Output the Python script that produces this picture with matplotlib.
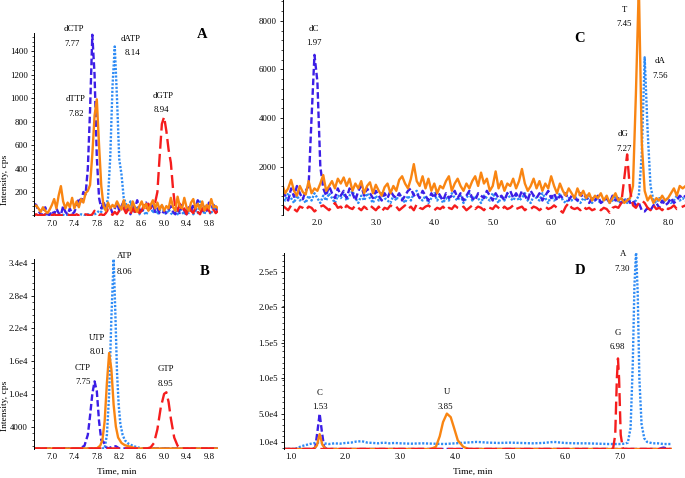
import numpy as np
import matplotlib
matplotlib.use('Agg')
import matplotlib.pyplot as plt
from matplotlib.ticker import AutoMinorLocator

plt.rcParams['font.family'] = ['Liberation Serif', 'DejaVu Serif']

# colours / line styles per base
c_cyt = '#3c1ee6'   # C  : dashed
c_ade = '#2e8bf5'   # A  : dotted
c_thy = '#f98512'   # T/U: solid
c_gua = '#f51d1d'   # G  : long dash
ls_cyt = (0, (2.8, 1.3))
ls_ade = (0, (0.9, 0.7))
ls_gua = (0, (5.5, 2.2))

# ---------------- panel A : deoxynucleoside triphosphates ----------------
tA = np.linspace(6.68, 9.96, 83)
dTTP = [80, 85, 60, 30, 70, 40, 20, 50, 90, 140,
        60, 170, 250, 120, 60, 110, 70, 150, 60, 120,
        70, 140, 110, 190, 210, 260, 520, 850, 990, 600,
        250, 80, 40, 110, 60, 90, 70, 120, 80, 50,
        130, 60, 90, 40, 120, 70, 30, 80, 120, 60,
        100, 40, 90, 130, 60, 110, 50, 90, 40, 80,
        60, 150, 70, 40, 160, 80, 60, 150, 70, 40,
        110, 140, 60, 100, 50, 120, 40, 90, 60, 140,
        70, 80, 60]
dCTP = [100, 90, 40, 10, 5, 70, 10, 5, 40, 10,
        60, 20, 5, 80, 30, 10, 60, 10, 30, 80,
        150, 120, 200, 180, 400, 900, 1540, 1200, 500, 150,
        60, 120, 40, 90, 70, 20, 60, 110, 40, 80,
        120, 30, 70, 10, 90, 60, 130, 50, 20, 80,
        110, 40, 70, 100, 30, 60, 20, 10, 40, 20,
        50, 80, 30, 10, 60, 20, 90, 40, 10, 70,
        30, 100, 50, 130, 60, 20, 90, 40, 110, 60,
        90, 40, 70]
dATP = [10, 5, 0, 5, 0, 10, 0, 5, 0, 5,
        0, 10, 0, 5, 0, 5, 0, 10, 0, 5,
        0, 10, 5, 0, 10, 5, 0, 10, 20, 40,
        30, 90, 60, 150, 500, 1100, 1440, 1000, 480, 350,
        150, 100, 60, 120, 50, 20, 80, 10, 60, 30,
        5, 50, 90, 20, 60, 10, 40, 90, 30, 10,
        50, 20, 5, 40, 10, 60, 30, 5, 50, 20,
        70, 10, 40, 20, 120, 60, 10, 80, 30, 10,
        90, 40, 20]
dGTP = [0, 10, 0, 5, 0, 10, 0, 5, 0, 10,
        0, 5, 0, 5, 0, 10, 0, 5, 0, 10,
        0, 5, 0, 10, 5, 0, 10, 40, 20, 5,
        10, 0, 20, 50, 20, 5, 30, 10, 40, 80,
        60, 20, 50, 10, 60, 30, 70, 20, 40, 90,
        50, 100, 60, 90, 110, 200, 500, 780, 840, 720,
        560, 450, 220, 60, 40, 100, 30, 60, 10, 80,
        40, 20, 70, 30, 10, 60, 20, 80, 40, 10,
        50, 20, 40]

# ---------------- panel B : ribonucleoside triphosphates ----------------
t_CTP = [6.68, 7.50, 7.58, 7.64, 7.68, 7.72, 7.76, 7.80, 7.84, 7.88, 7.92, 7.96, 8.00, 8.10, 8.14, 8.20, 9.96]
y_CTP = [0, 0, 500, 2500, 6000, 10000, 12300, 10500, 5000, 1500, 1200, 300, 0, 400, 400, 0, 0]
t_UTP = [6.68, 7.80, 7.86, 7.90, 7.94, 7.98, 8.02, 8.06, 8.10, 8.14, 8.18, 8.24, 8.30, 8.40, 8.50, 9.96]
y_UTP = [0, 0, 500, 1500, 5000, 12000, 17500, 14500, 8000, 4000, 2000, 1000, 600, 300, 0, 0]
t_ATP = [6.68, 7.94, 7.98, 8.02, 8.06, 8.10, 8.13, 8.16, 8.19, 8.22, 8.26, 8.30, 8.36, 8.44, 8.52, 8.62, 9.96]
y_ATP = [0, 0, 2500, 10000, 24000, 34700, 25000, 14000, 8000, 4500, 2500, 1500, 900, 500, 200, 0, 0]
t_GTP = [6.68, 8.70, 8.76, 8.82, 8.88, 8.94, 9.00, 9.04, 9.08, 9.12, 9.18, 9.24, 9.30, 9.96]
y_GTP = [0, 0, 200, 1000, 3500, 7500, 10000, 10300, 8500, 5500, 2000, 500, 0, 0]

# ---------------- panel C : deoxynucleosides ----------------
tC = np.linspace(1.40, 8.30, 139)
T_C = [1250, 900, 1100, 1450, 1000, 800, 1200, 950, 850, 1400,
       900, 1100, 1000, 1300, 1650, 1000, 1200, 1400, 1100, 1500,
       1300, 1550, 1200, 1500, 1000, 1300, 1100, 1400, 900, 1200,
       1350, 900, 1250, 1000, 800, 1150, 1300, 900, 1200, 1000,
       1450, 1600, 1300, 1100, 1500, 2100, 1400, 1200, 1600, 1100,
       1500, 1000, 1300, 900, 1200, 1100, 1400, 1600, 1000, 1300,
       1500, 1200, 1000, 1300, 1100, 1400, 1600, 1200, 1750, 1300,
       1500, 1000, 1200, 1800, 1100, 1400, 1000, 1300, 1200, 1500,
       1100, 1400, 1900, 1300, 1000, 1200, 1500, 1100, 1400, 1000,
       1300, 1100, 1600, 1200, 900, 1300, 1000, 800, 1100, 900,
       700, 1100, 800, 1000, 700, 900, 600, 800, 700, 900,
       600, 800, 500, 700, 900, 600, 700, 500, 600, 700,
       1200, 5000, 9500, 3000, 1000, 600, 800, 500, 700, 600,
       800, 600, 700, 900, 1100, 800, 1200, 1100, 1200]
dC_C = [1000, 800, 600, 1100, 750, 1200, 900, 650, 1000, 1200,
        4000, 6600, 5500, 2000, 1100, 800, 1200, 900, 700, 1100,
        800, 1000, 700, 1100, 900, 600, 1000, 1200, 800, 1100,
        900, 700, 1000, 800, 600, 900, 700, 1000, 800, 700,
        900, 600, 800, 1000, 1100, 800, 900, 700, 1000, 800,
        600, 900, 700, 1000, 800, 600, 900, 700, 800, 1000,
        700, 900, 600, 800, 1000, 700, 600, 900, 800, 700,
        1000, 800, 600, 900, 700, 800, 600, 900, 1000, 700,
        900, 700, 1000, 800, 600, 1000, 800, 700, 900, 600,
        800, 1000, 700, 900, 600, 800, 700, 900, 600, 800,
        700, 600, 900, 700, 800, 500, 700, 600, 800, 500,
        600, 700, 500, 800, 600, 700, 500, 600, 700, 500,
        600, 400, 500, 200, 150, 300, 200, 400, 500, 300,
        600, 400, 500, 700, 500, 600, 800, 700, 800]
dA_C = [800, 600, 900, 700, 500, 800, 600, 700, 500, 800,
        600, 900, 700, 500, 800, 600, 900, 700, 500, 800,
        700, 900, 600, 800, 1000, 700, 500, 800, 600, 900,
        700, 500, 800, 600, 900, 700, 600, 500, 800, 600,
        900, 700, 500, 800, 600, 900, 1000, 700, 600, 800,
        500, 700, 900, 600, 800, 500, 700, 600, 900, 700,
        600, 800, 500, 700, 900, 600, 800, 700, 500, 800,
        700, 600, 900, 700, 500, 800, 600, 900, 700, 600,
        800, 600, 700, 900, 600, 500, 800, 700, 600, 900,
        700, 500, 800, 600, 700, 900, 600, 500, 700, 600,
        800, 600, 500, 700, 600, 800, 500, 700, 600, 500,
        600, 700, 500, 600, 800, 500, 600, 700, 500, 600,
        500, 600, 800, 2500, 6500, 3500, 1200, 600, 500, 700,
        500, 600, 700, 500, 600, 800, 600, 700, 600]
dG_C = [400, 300, 200, 400, 250, 150, 350, 300, 200, 350,
        300, 150, 250, 350, 400, 300, 200, 350, 500, 300,
        350, 200, 400, 300, 250, 400, 300, 200, 350, 250,
        400, 300, 200, 350, 150, 300, 250, 400, 300, 350,
        200, 300, 400, 250, 350, 200, 450, 300, 250, 350,
        400, 300, 200, 300, 250, 350, 200, 300, 250, 400,
        300, 250, 350, 200, 300, 400, 250, 350, 300, 200,
        350, 300, 250, 400, 300, 200, 350, 250, 300, 400,
        250, 300, 350, 200, 300, 250, 350, 300, 200, 300,
        350, 250, 300, 400, 300, 200, 100, 350, 500, 300,
        250, 300, 200, 350, 250, 300, 200, 250, 300, 200,
        300, 250, 100, 300, 350, 300, 500, 1500, 2500, 1000,
        400, 300, 500, 600, 500, 300, 200, 400, 250, 300,
        200, 350, 250, 300, 400, 250, 300, 350, 400]

# ---------------- panel D : ribonucleosides ----------------
t_A = [0.88, 1.0, 1.1, 1.2, 1.3, 1.4, 1.5, 1.6, 1.7, 1.8,
       1.9, 2.0, 2.1, 2.2, 2.3, 2.4, 2.5, 2.6, 2.7, 2.8,
       2.9, 3.0, 3.2, 3.4, 3.6, 3.8, 4.0, 4.2, 4.4, 4.6,
       4.8, 5.0, 5.2, 5.4, 5.6, 5.8, 6.0, 6.2, 6.4, 6.6,
       6.8, 7.0, 7.1, 7.15, 7.2, 7.24, 7.27, 7.30, 7.33, 7.36,
       7.40, 7.45, 7.5, 7.6, 7.7, 7.8, 7.95]
y_A = [0, 0, 500, 4000, 6000, 8000, 9000, 8000, 7000, 8000,
       7500, 8500, 9000, 10500, 11000, 9000, 8500, 8000, 9000, 8000,
       8500, 8000, 7500, 8000, 7500, 7000, 8000, 9000, 10000, 9000,
       8500, 9000, 8500, 8000, 8500, 10000, 8500, 8000, 8000, 7500,
       7000, 7000, 7500, 9000, 30000, 120000, 230000, 280000, 220000, 100000,
       35000, 15000, 10000, 8000, 8000, 7000, 7000]
t_C = [0.88, 1.40, 1.45, 1.49, 1.53, 1.57, 1.61, 1.66, 7.70, 7.80, 7.90, 7.95]
y_C = [0, 0, 2000, 25000, 50000, 25000, 3000, 0, 0, 2000, 0, 0]
t_U = [0.88, 1.42, 1.48, 1.53, 1.58, 1.64, 3.55, 3.65, 3.72, 3.78, 3.85, 3.92, 3.98, 4.05, 4.15, 4.25, 7.95]
y_U = [0, 0, 5000, 21000, 6000, 0, 0, 3000, 18000, 38000, 50000, 45000, 30000, 12000, 3000, 0, 0]
t_G = [0.88, 6.88, 6.92, 6.95, 6.97, 6.99, 7.02, 7.06, 7.95]
y_G = [0, 0, 20000, 100000, 128000, 100000, 20000, 0, 0]

fs = 6.3
lw = 1.7

fig = plt.figure(figsize=(6.85, 4.78), dpi=100)
axA = fig.add_axes([0.0496, 0.548, 0.2686, 0.383])
axB = fig.add_axes([0.0496, 0.0607, 0.2686, 0.397])
axC = fig.add_axes([0.413, 0.550, 0.587, 0.450])
axD = fig.add_axes([0.4146, 0.0607, 0.566, 0.410])


def style(ax, xlim, ylim, xticks, yticks, ylabels):
    ax.set_xlim(xlim)
    ax.set_ylim(ylim)
    for s in ['top', 'right', 'bottom']:
        ax.spines[s].set_visible(False)
    ax.spines['left'].set_linewidth(0.7)
    ax.set_xticks(xticks)
    ax.set_xticklabels(['%.1f' % v for v in xticks])
    ax.set_yticks(yticks)
    ax.set_yticklabels(ylabels)
    ax.yaxis.set_minor_locator(AutoMinorLocator(5))
    ax.tick_params(axis='x', length=0, labelsize=fs, pad=3)
    ax.tick_params(axis='y', which='major', length=2.5, width=0.6, labelsize=fs, pad=2)
    ax.tick_params(axis='y', which='minor', length=1.3, width=0.5)


# A
axA.plot(tA, dATP, color=c_ade, ls=ls_ade, lw=lw)
axA.plot(tA, dCTP, color=c_cyt, ls=ls_cyt, lw=lw)
axA.plot(tA, dGTP, color=c_gua, ls=ls_gua, lw=lw)
axA.plot(tA, dTTP, color=c_thy, ls='-', lw=lw)
yt = [200, 400, 600, 800, 1000, 1200, 1400]
style(axA, (6.68, 9.96), (-5, 1555), [7.0, 7.4, 7.8, 8.2, 8.6, 9.0, 9.4, 9.8], yt, [str(v) for v in yt])
for x, y, s in [(7.39, 1585, 'dCTP'), (7.36, 1460, '7.77'), (8.41, 1505, 'dATP'), (8.43, 1385, '8.14'),
                (7.43, 995, 'dTTP'), (7.43, 867, '7.82'), (8.98, 1020, 'dGTP'), (8.96, 900, '8.94')]:
    axA.text(x, y, s, fontsize=fs, ha='center', va='center')
axA.text(9.68, 1545, 'A', fontsize=10.5, fontweight='bold', ha='center', va='center')
axA.set_ylabel('Intensity, cps', fontsize=6.8)
axA.yaxis.set_label_coords(-0.135, 0.2)

# B
axB.plot(t_ATP, y_ATP, color=c_ade, ls=ls_ade, lw=lw)
axB.plot(t_CTP, y_CTP, color=c_cyt, ls=ls_cyt, lw=lw)
axB.plot(t_UTP, y_UTP, color=c_thy, ls='-', lw=lw)
axB.plot(t_GTP, y_GTP, color=c_gua, ls=ls_gua, lw=lw)
style(axB, (6.68, 9.96), (-100, 34700), [7.0, 7.4, 7.8, 8.2, 8.6, 9.0, 9.4, 9.8],
      [4000, 10000, 16000, 22000, 28000, 34000], ['4000', '1.0e4', '1.6e4', '2.2e4', '2.8e4', '3.4e4'])
for x, y, s in [(8.29, 35300, 'ATP'), (8.30, 32400, '8.06'), (7.80, 20300, 'UTP'), (7.82, 17600, '8.01'),
                (7.55, 14800, 'CTP'), (7.55, 12100, '7.75'), (9.03, 14500, 'GTP'), (9.03, 11900, '8.95')]:
    axB.text(x, y, s, fontsize=fs, ha='center', va='center')
axB.text(9.73, 32400, 'B', fontsize=10.5, fontweight='bold', ha='center', va='center')
axB.set_ylabel('Intensity, cps', fontsize=6.8)
axB.yaxis.set_label_coords(-0.135, 0.23)
axB.set_xlabel('Time, min', fontsize=6.8)
axB.xaxis.set_label_coords(0.45, -0.1)

# C
axC.plot(tC, dA_C, color=c_ade, ls=ls_ade, lw=lw)
axC.plot(tC, dC_C, color=c_cyt, ls=ls_cyt, lw=lw)
axC.plot(tC, T_C, color=c_thy, ls='-', lw=lw)
axC.plot(tC, dG_C, color=c_gua, ls=ls_gua, lw=lw)
yt = [2000, 4000, 6000, 8000]
style(axC, (1.41, 8.29), (0, 8860), [2.0, 3.0, 4.0, 5.0, 6.0, 7.0, 8.0], yt, [str(v) for v in yt])
for x, y, s in [(1.94, 7670, 'dC'), (1.94, 7100, '1.97'), (7.26, 8450, 'T'), (7.25, 7880, '7.45'),
                (7.87, 6330, 'dA'), (7.86, 5730, '7.56'), (7.23, 3320, 'dG'), (7.25, 2725, '7.27')]:
    axC.text(x, y, s, fontsize=fs, ha='center', va='center')
axC.text(6.49, 7260, 'C', fontsize=10.5, fontweight='bold', ha='center', va='center')

# D
axD.plot(t_A, y_A, color=c_ade, ls=ls_ade, lw=lw)
axD.plot(t_C, y_C, color=c_cyt, ls=ls_cyt, lw=lw)
axD.plot(t_U, y_U, color=c_thy, ls='-', lw=lw)
axD.plot(t_G, y_G, color=c_gua, ls=ls_gua, lw=lw)
style(axD, (0.88, 7.95), (0, 277000), [1.0, 2.0, 3.0, 4.0, 5.0, 6.0, 7.0],
      [10000, 50000, 100000, 150000, 200000, 250000], ['1.0e4', '5.0e4', '1.0e5', '1.5e5', '2.0e5', '2.5e5'])
for x, y, s in [(1.53, 78600, 'C'), (1.53, 58800, '1.53'), (3.85, 80000, 'U'), (3.82, 59700, '3.85'),
                (6.96, 164600, 'G'), (6.96, 144400, '6.98'), (7.07, 275000, 'A'), (7.05, 255000, '7.30')]:
    axD.text(x, y, s, fontsize=fs, ha='center', va='center')
axD.text(6.28, 251600, 'D', fontsize=10.5, fontweight='bold', ha='center', va='center')
axD.set_xlabel('Time, min', fontsize=6.8)
axD.xaxis.set_label_coords(0.487, -0.095)

fig.savefig('out.png', dpi=100)
